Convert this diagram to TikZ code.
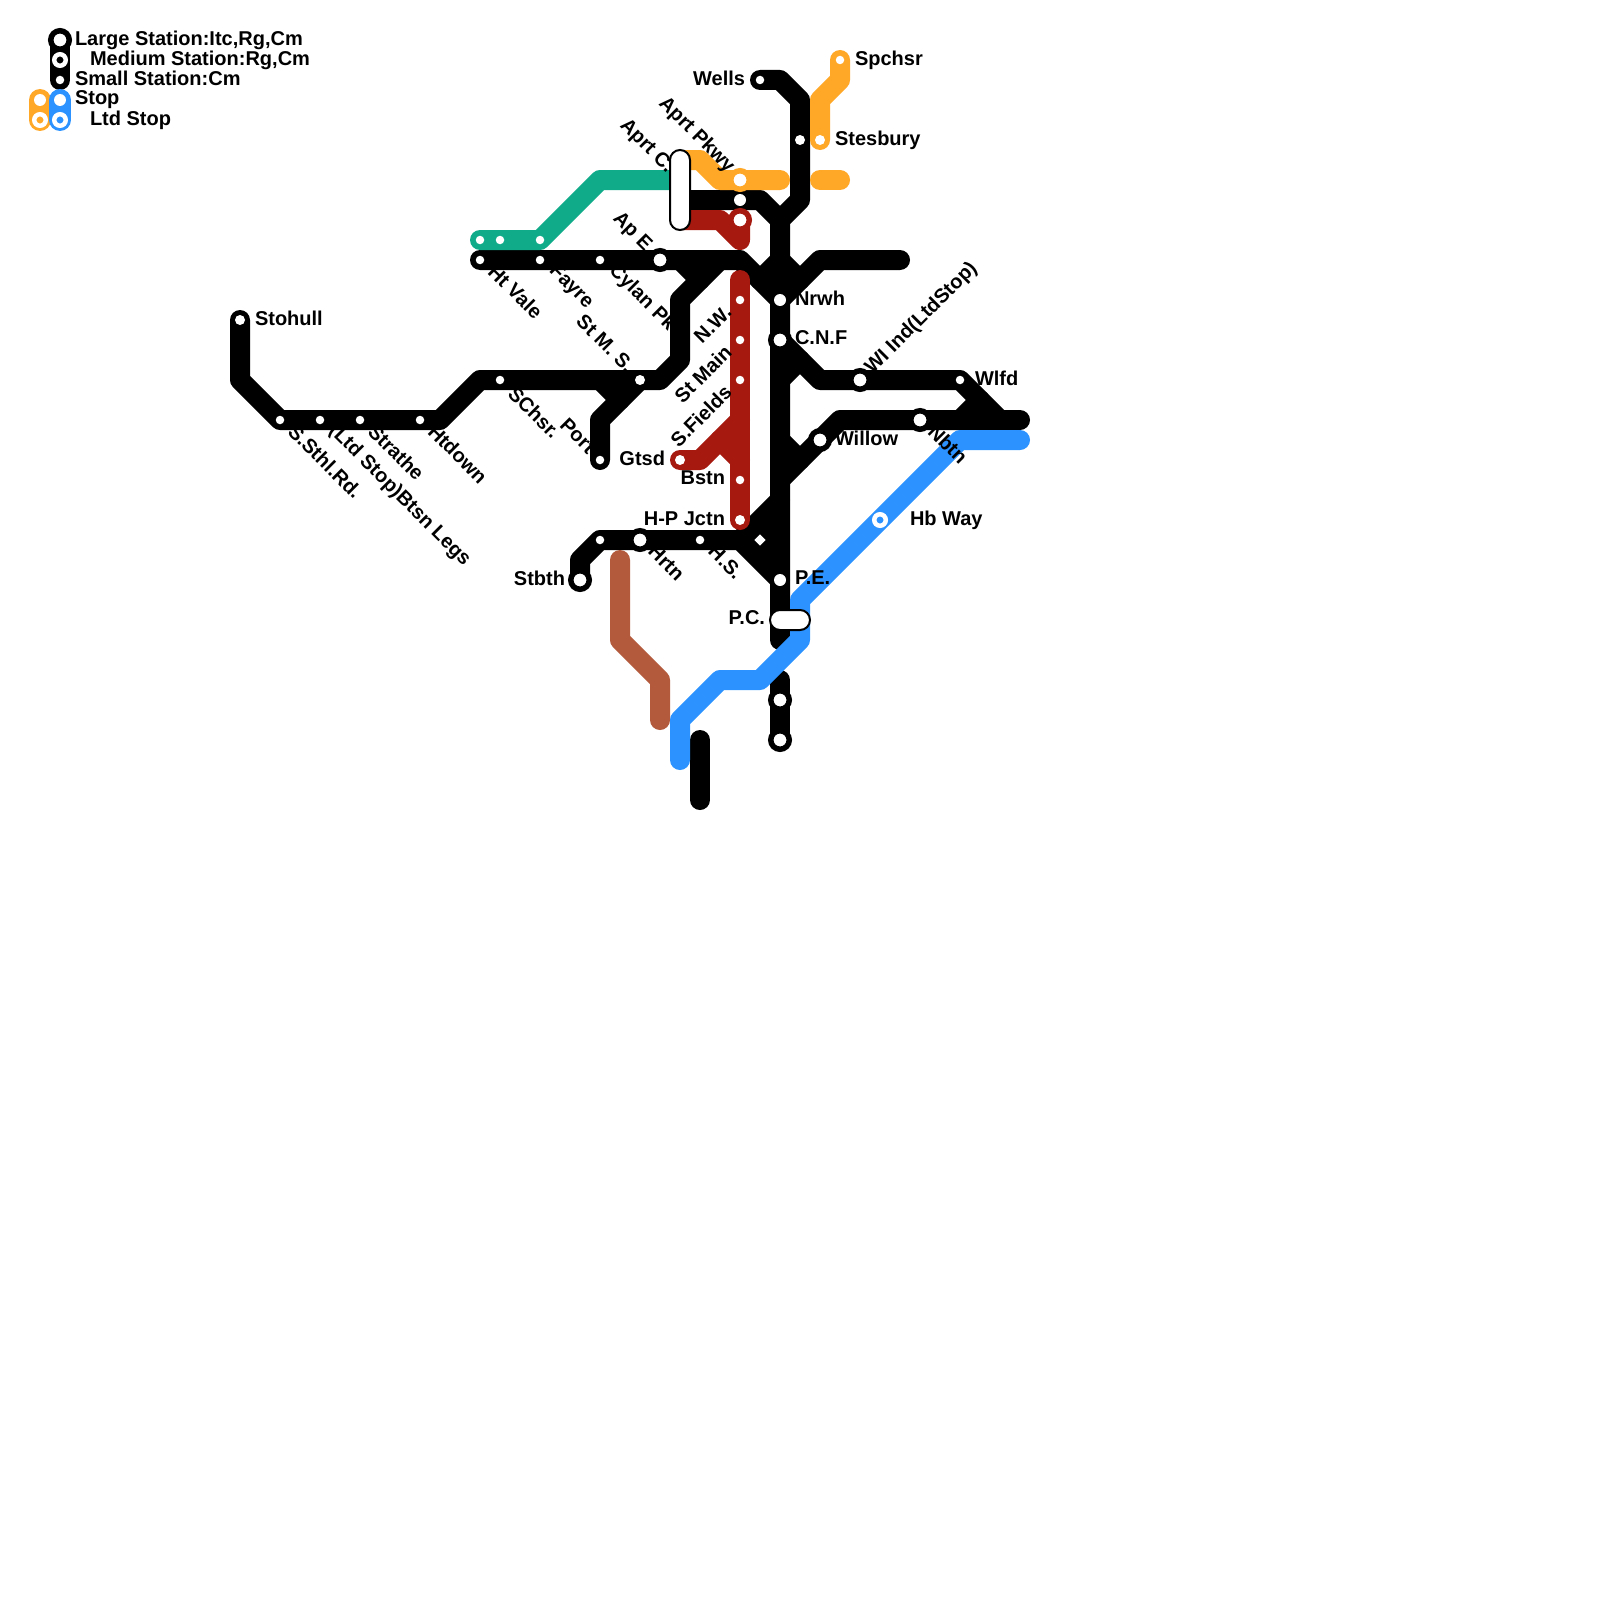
\documentclass[tikz,border=0pt]{standalone}
\usepackage{fontspec}
\setmainfont{Liberation Sans}
\definecolor{mOrange}{HTML}{FFA726}
\definecolor{mTeal}{HTML}{10AC8A}
\definecolor{mRed}{HTML}{A6190F}
\definecolor{mBrown}{HTML}{B35A3C}
\definecolor{mBlue}{HTML}{2B92FF}
\tikzset{
  ln/.style={line width=20pt,line cap=round,line join=round},
  stS/.style={circle,inner sep=0pt,outer sep=0pt,fill=white,minimum size=8.5pt},
  stF/.style={circle,inner sep=0pt,outer sep=0pt,fill=white,minimum size=10pt},
  stM/.style={circle,inner sep=0pt,outer sep=0pt,fill=white,minimum size=12pt},
  stL/.style={circle,inner sep=0pt,outer sep=0pt,fill=white,draw=#1,line width=5.5pt,minimum size=18.5pt},
  stR/.style={circle,inner sep=0pt,outer sep=0pt,fill=#1,draw=white,line width=4.5pt,minimum size=11.5pt},
  pill/.style={rounded corners=10pt,fill=white,draw=black,line width=2pt},
  lab/.style={inner sep=0pt,outer sep=0pt,font=\bfseries\fontsize{20}{22}\selectfont},
  lw/.style={lab,anchor=west},
  le/.style={lab,anchor=east},
  dn/.style={lab,anchor=west,rotate=-45},
  dne/.style={lab,anchor=east,rotate=-45},
  upe/.style={lab,anchor=east,rotate=45},
  upw/.style={lab,anchor=west,rotate=45},
}
\begin{document}
\begin{tikzpicture}[x=1pt,y=-1pt]
\useasboundingbox[fill=white] (0,0) rectangle (1600,1600);
% junction / corner points
\foreach \n/\x/\y in {
 a1/240/320,a2/240/380,a3/280/420,a4/440/420,a5/480/380,a6/660/380,a7/680/360,a8/680/300,a9/720/260,
 b1/480/260,b2/740/260,b3/780/300,b4/820/260,b5/900/260,b6/680/260,b7/700/280,
 c1/760/80,c2/780/80,c3/800/100,c4/800/200,c5/780/220,c6/780/640,
 d1/680/200,d2/760/200,
 e1/760/280,e2/780/260,e3/800/280,
 f1/780/500,f2/740/540,f3/580/580,f4/580/560,f5/600/540,f6/780/580,f7/780/540,
 g1/780/340,g2/820/380,g3/960/380,g4/1000/420,g5/780/380,g6/800/360,
 h1/780/440,h2/800/460,h3/780/480,h4/840/420,h5/1020/420,h6/960/420,h7/980/400,
 i1/600/460,i2/600/420,i3/640/380,i4/600/380,i5/620/400,
 j1/780/680,j2/780/740,k1/700/740,k2/700/800,
 m1/620/560,m2/620/640,m3/660/680,m4/660/720,
 n1/1020/440,n2/960/440,n3/800/600,n4/800/640,n5/760/680,n6/720/680,n7/680/720,n8/680/760,
 r1/740/280,r2/740/520,r3/680/460,r4/700/460,r5/740/420,r6/720/440,r7/740/460,r8/680/220,r9/720/220,r10/740/240,r11/740/220,
 t1/480/240,t2/540/240,t3/600/180,t4/680/180,
 o1/680/160,o2/700/160,o3/720/180,o4/780/180,o5/820/180,o6/840/180,o7/840/60,o8/840/80,o9/820/100,o10/820/140,
 q1/60/40,q2/60/80,q3/40/100,q4/40/120,q5/60/100,q6/60/120}
 {\coordinate (\n) at (\x,\y);}
% black lines
\draw[ln] (a1)--(a2)--(a3)--(a4)--(a5)--(a6)--(a7)--(a8)--(a9);
\draw[ln] (b1)--(b2)--(b3)--(b4)--(b5);
\draw[ln] (b6)--(b7);
\draw[ln] (c1)--(c2)--(c3)--(c4)--(c5)--(c6);
\draw[ln] (d1)--(d2)--(c5);
\draw[ln] (e1)--(e2)--(e3);
\fill (f1)--(f2)--(f6)--cycle;
\draw[ln] (f3)--(f4)--(f5)--(f2)--(f6);
\draw[ln] (f1)--(f2);
\draw[ln] (g1)--(g2)--(g3)--(g4);
\draw[ln] (g5)--(g6);
\draw[ln] (h1)--(h2);
\draw[ln] (h3)--(h4)--(h5);
\draw[ln] (h6)--(h7);
\draw[ln] (i1)--(i2)--(i3);
\draw[ln] (i4)--(i5);
\draw[ln] (j1)--(j2);
\draw[ln] (k1)--(k2);
% teal, orange, red, brown, blue
\draw[ln,mTeal] (t1)--(t2)--(t3)--(t4);
\draw[ln,mOrange] (o1)--(o2)--(o3)--(o4);
\draw[ln,mOrange] (o5)--(o6);
\draw[ln,mOrange] (o7)--(o8)--(o9)--(o10);
\draw[ln,mRed] (r1)--(r2);
\draw[ln,mRed] (r3)--(r4)--(r5);
\draw[ln,mRed] (r6)--(r7);
\draw[ln,mRed] (r8)--(r9)--(r10)--(r11);
\draw[ln,mBrown] (m1)--(m2)--(m3)--(m4);
\draw[ln,mBlue] (n1)--(n2)--(n3)--(n4)--(n5)--(n6)--(n7)--(n8);
% legend lines
\draw[ln] (q1)--(q2);
\draw[ln,mOrange,line width=22pt] (q3)--(q4);
\draw[ln,mBlue,line width=22pt] (q5)--(q6);
% interchange pills
\draw[pill] (670,150) rectangle (690,230);
\draw[pill] (770,610) rectangle (810,630);
% legend stations
\node[stL=black] (qa) at (60,40) {};
\node[stR=black] (qb) at (60,60) {};
\node[stS] (qc) at (60,80) {};
\node[stM] (qd) at (40,100) {};
\node[stR=mOrange] (qe) at (40,120) {};
\node[stM] (qf) at (60,100) {};
\node[stR=mBlue] (qg) at (60,120) {};
% stations
\foreach \n/\x/\y in {sSth/280/420,sBtsn/320/420,sStr/360/420,sHtd/420/420,sSch/500/380,sHtV/480/260,sFay/540/260,sCyl/600/260,sPort/600/460,
  sT1/480/240,sT2/500/240,sT3/540/240,sHS/700/540,sA/600/540,sWlfd/960/380,sNW/740/300,sStM/740/340,sSF/740/380,sBstn/740/480,sWells/760/80,sSpch/840/60}
  {\node[stS] (\n) at (\x,\y) {};}
\foreach \n/\x/\y in {sStohull/240/320,sBlk/800/140,sStMS/640/380,sStes/820/140,sHP/740/520,sGtsd/680/460}
  {\node[stF] (\n) at (\x,\y) {};}
\foreach \n/\x/\y in {sAP/740/200,sNrwh/780/300,sPE/780/580}
  {\node[stM] (\n) at (\x,\y) {};}
\foreach \n/\x/\y/\c in {sApE/660/260/black,sCNF/780/340/black,sWI/860/380/black,sNbtn/920/420/black,sWillow/820/440/black,sHrtn/640/540/black,sStbth/580/580/black,sL1/780/700/black,sL2/780/740/black,sAPk/740/180/mOrange,sRed/740/220/mRed}
  {\node[stL=\c] (\n) at (\x,\y) {};}
\node[stR=mBlue] (sHb) at (880,520) {};
\node[fill=white,inner sep=0pt,minimum size=8pt,rotate=45] (sDia) at (760,540) {};
% labels
\node[lw] (l1) at (75,40) {Large Station:Itc,Rg,Cm};
\node[lw] (l2) at (90,60) {Medium Station:Rg,Cm};
\node[lw] (l3) at (75,78) {Small Station:Cm};
\node[lw] (l4) at (75,100) {Stop};
\node[lw] (l5) at (90,120) {Ltd Stop};
\node[le] (lWells) at (745,78) {Wells};
\node[lw] (lSp) at (855,60) {Spchsr};
\node[lw] (lSt) at (835,140) {Stesbury};
\node[lw] (lNr) at (795,298) {Nrwh};
\node[lw] (lCN) at (795,338) {C.N.F};
\node[lw] (lWl) at (975,378) {Wlfd};
\node[lw] (lWi) at (835,438) {Willow};
\node[lw] (lHb) at (910,520) {Hb Way};
\node[lw] (lPE) at (795,578) {P.E.};
\node[le] (lPC) at (765,618) {P.C.};
\node[le] (lHP) at (725,519) {H-P Jctn};
\node[le] (lBs) at (725,478) {Bstn};
\node[le] (lGt) at (665,458) {Gtsd};
\node[le] (lSb) at (565,578) {Stbth};
\node[lw] (lSh) at (255,318) {Stohull};
\node[upw] (lWI) at (869,371) {WI Ind(LtdStop)};
\node[dn] (lNb) at (932,428) {Nbtn};
\node[dn] (lHt) at (492,268) {Ht Vale};
\node[dn] (lFa) at (552,268) {Fayre};
\node[dn] (lCy) at (612,268) {Cylan Pk};
\node[dne] (lSM) at (631,369) {St M. S.};
\node[dne] (lAE) at (652,252) {Ap E.};
\node[dne] (lAC) at (670,170) {Aprt C.};
\node[dne] (lAP) at (731,170) {Aprt Pkwy};
\node[dn] (lSC) at (512,390) {SChsr.};
\node[dne] (lPo) at (592,450) {Port};
\node[dn] (lHr) at (652,548) {Hrtn};
\node[dn] (lHS) at (712,548) {H.S.};
\node[dn] (lSS) at (292,428) {S.Sthl.Rd.};
\node[dn] (lBL) at (332,428) {(Ltd Stop)Btsn Legs};
\node[dn] (lSr) at (372,428) {Strathe};
\node[dn] (lHd) at (432,428) {Htdown};
\node[upe] (lNW) at (728,309) {N.W.};
\node[upe] (lSMn) at (728,349) {St Main};
\node[upe] (lSF) at (728,389) {S.Fields};
\end{tikzpicture}
\end{document}
